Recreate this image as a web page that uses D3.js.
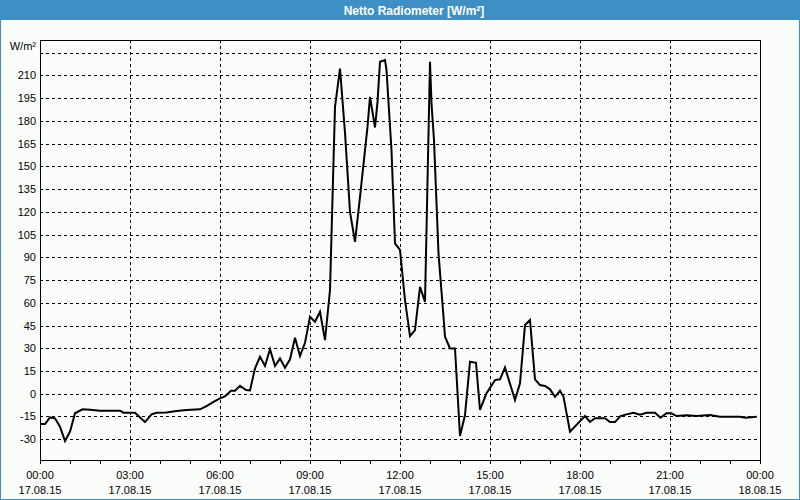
<!DOCTYPE html>
<html>
<head>
<meta charset="utf-8">
<script src="https://cdn.jsdelivr.net/npm/d3@7"></script>
<style>
html,body{margin:0;padding:0;background:#fbfdfb;}
svg{display:block;}
text{font-family:"Liberation Sans",Arial,sans-serif;fill:#000;}
</style>
</head>
<body>
<svg id="chart" width="800" height="500"></svg>
<script>
const title = "Netto Radiometer [W/m²]";
const unitLabel = "W/m²";
const times = ["00:00","00:10","00:20","00:30","00:40","00:50","01:00","01:10","01:25","01:40",
"02:00","02:40","02:47","03:10","03:30","03:43","03:53","04:13","04:33","04:53",
"05:20","05:33","05:47","06:00","06:10","06:22","06:30","06:40","06:52","07:00",
"07:10","07:20","07:30","07:40","07:50","08:00","08:10","08:20","08:30","08:40",
"08:50","09:00","09:10","09:20","09:30","09:40","09:50","10:00","10:10","10:20",
"10:30","10:40","10:55","11:00","11:10","11:15","11:20","11:30","11:33","11:43",
"11:50","12:00","12:10","12:20","12:30","12:40","12:50","13:00","13:03","13:08",
"13:17","13:27","13:30","13:40","13:50","14:00","14:10","14:20","14:32","14:40",
"14:53","15:10","15:20","15:30","15:50","16:00","16:10","16:20","16:30","16:40",
"16:50","17:00","17:10","17:20","17:27","17:40","18:10","18:20","18:30","18:50",
"19:00","19:10","19:21","19:33","19:47","20:00","20:13","20:30","20:41","20:53",
"21:03","21:13","21:33","21:53","22:20","22:40","23:20","23:30","23:53"];
const values = [-20,-20,-15.6,-16.2,-21.7,-31.2,-25,-12.9,-10.3,-10.5,
-11.2,-11.2,-12.5,-12.5,-18.7,-13.6,-12.5,-12.3,-11.4,-10.7,
-10.3,-8.1,-5.3,-3.0,-1.7,2.0,2.0,5.3,2.4,2.2,
16.7,24.4,18.3,29.3,18.3,23.3,17.1,22.7,36.9,24.9,
33.6,50.8,47.5,54.1,35.4,68.4,189.2,214.5,172,120,
100.2,129.9,176,195.8,175.6,192.5,218.9,220,213.4,160.6,
99.1,94.8,61.8,38,42,70.5,60.6,218.9,191.4,167.2,
92.5,50.8,37.6,29.9,29.9,-27.9,-14,21.1,20.4,-10.7,
0.3,9.0,9.5,17.4,-4.2,6.9,45.3,48.6,9.5,5.7,
5.1,2.9,-2.0,2.0,-2.0,-25,-14.7,-18.5,-16.2,-16.2,
-18.7,-18.7,-14.7,-13.6,-12.5,-13.8,-12.5,-12.5,-15.8,-12.9,
-12.9,-14.7,-14.2,-14.7,-14.0,-15.2,-15.2,-15.8,-15.2];
const yTicks = [-30,-15,0,15,30,45,60,75,90,105,120,135,150,165,180,195,210];
const yGrid = [-30,-15,0,15,30,45,60,75,90,105,120,135,150,165,180,195,210,225];
const xTickHours = [0,3,6,9,12,15,18,21,24];
const xTickTimes = ["00:00","03:00","06:00","09:00","12:00","15:00","18:00","21:00","00:00"];
const xTickDates = ["17.08.15","17.08.15","17.08.15","17.08.15","17.08.15","17.08.15","17.08.15","17.08.15","18.08.15"];
const minorHours = d3.range(0,25,1);

const toHours = s => { const [h,m] = s.split(":").map(Number); return h + m/60; };
const data = times.map((t,i)=>({h:toHours(t), v:values[i]}));

const svg = d3.select("#chart");
const L=40, R=760, T=40, B=460;
const x = d3.scaleLinear().domain([0,24]).range([L,R]);
const y = d3.scaleLinear().domain([-43.7,233.3]).range([B,T]);

// outer border & title bar
svg.append("rect").attr("x",0.5).attr("y",0.5).attr("width",799).attr("height",499)
  .attr("fill","#fbfdfb").attr("stroke","#3d8fc6").attr("stroke-width",1);
svg.append("rect").attr("x",0).attr("y",0).attr("width",800).attr("height",20).attr("fill","#3d8fc6");
svg.append("text").attr("x",414).attr("y",14.5).attr("text-anchor","middle")
  .style("font-size","12px").style("font-weight","bold").style("fill","#ffffff").text(title);

// grid
const g = svg.append("g");
g.selectAll(".hg").data(yGrid).enter().append("line")
  .attr("x1",L).attr("x2",R).attr("y1",d=>Math.round(y(d))+0.5).attr("y2",d=>Math.round(y(d))+0.5)
  .attr("stroke","#000").attr("stroke-width",1).attr("stroke-dasharray","3,3");
g.selectAll(".vg").data(xTickHours.slice(1,-1)).enter().append("line")
  .attr("y1",T).attr("y2",B).attr("x1",d=>Math.round(x(d))+0.5).attr("x2",d=>Math.round(x(d))+0.5)
  .attr("stroke","#000").attr("stroke-width",1).attr("stroke-dasharray","3,3");

// minor ticks on bottom axis
g.selectAll(".mt").data(minorHours).enter().append("line")
  .attr("x1",d=>Math.round(x(d))+0.5).attr("x2",d=>Math.round(x(d))+0.5)
  .attr("y1",B).attr("y2",B+4).attr("stroke","#000");

// frame
svg.append("rect").attr("x",L+0.5).attr("y",T+0.5).attr("width",R-L).attr("height",B-T)
  .attr("fill","none").attr("stroke","#000").attr("stroke-width",1);

// y labels
svg.selectAll(".yl").data(yTicks).enter().append("text")
  .attr("x",36).attr("y",d=>y(d)+4).attr("text-anchor","end").style("font-size","11px").text(d=>d);
svg.append("text").attr("x",36).attr("y",50).attr("text-anchor","end").style("font-size","11px").text(unitLabel);

// x labels
svg.selectAll(".xl1").data(xTickHours).enter().append("text")
  .attr("x",d=>x(d)).attr("y",479).attr("text-anchor","middle").style("font-size","11px")
  .text((d,i)=>xTickTimes[i]);
svg.selectAll(".xl2").data(xTickHours).enter().append("text")
  .attr("x",d=>x(d)).attr("y",494).attr("text-anchor","middle").style("font-size","11px")
  .text((d,i)=>xTickDates[i]);

// line
const line = d3.line().x(d=>x(d.h)).y(d=>y(d.v));
svg.append("path").datum(data).attr("d",line).attr("fill","none")
  .attr("stroke","#000").attr("stroke-width",2).attr("stroke-linejoin","miter");
</script>
</body>
</html>
